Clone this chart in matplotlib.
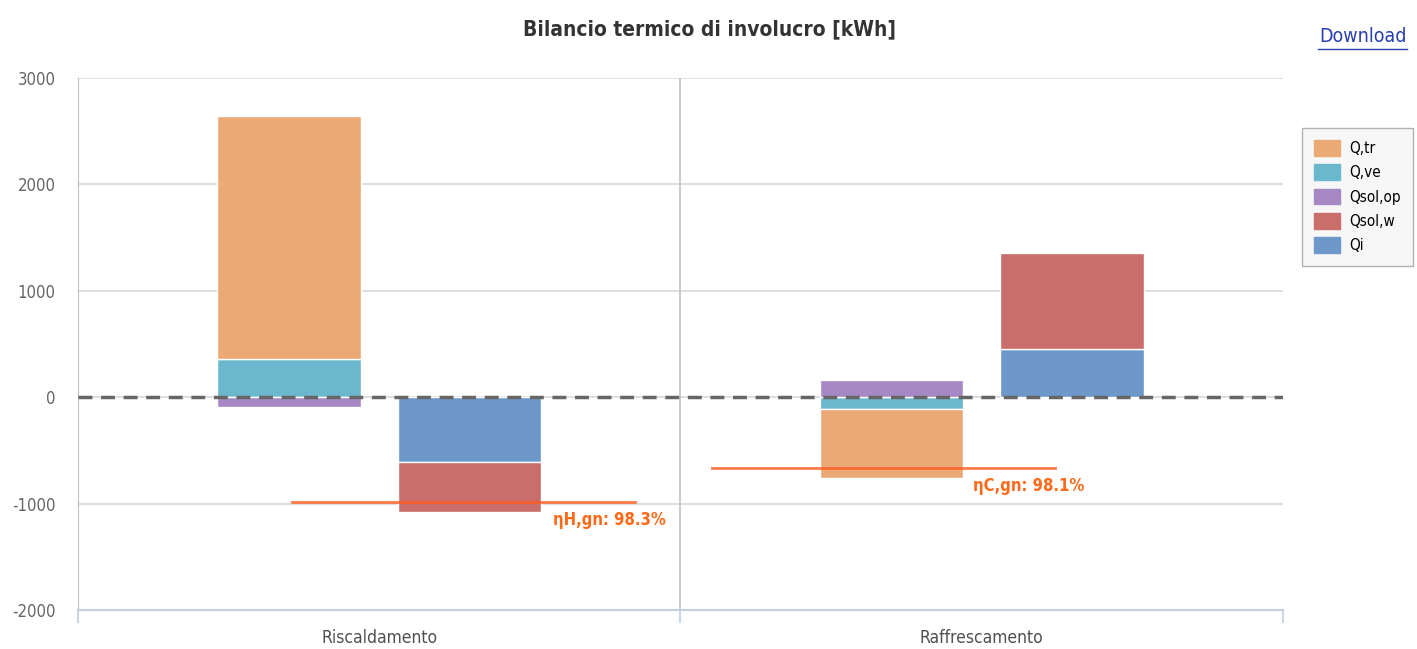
import numpy as np
import matplotlib
import matplotlib.pyplot as plt

categories = ['Riscaldamento', 'Raffrescamento']

# stack values for the left bar (losses) and right bar (gains) of each category
series = ['Q,tr', 'Q,ve', 'Qsol,op', 'Qsol,w', 'Qi']
colors = ['#EAAA75', '#6BB8CC', '#A689C4', '#C96E6A', '#6E98C9']

left_bar = {
    'Q,tr': [2290, -640],
    'Q,ve': [355, -115],
    'Qsol,op': [-95, 160],
}
right_bar = {
    'Qsol,w': [-470, 900],
    'Qi': [-610, 455],
}
right_order = ['Qi', 'Qsol,w']
left_order = ['Q,ve', 'Q,tr', 'Qsol,op']

eta_values = [-985, -665]
eta_labels = ['ηH,gn: 98.3%', 'ηC,gn: 98.1%']
eta_span = [(-0.145, 0.425), (-0.448, 0.121)]

plt.rcParams['font.family'] = ['Liberation Sans Narrow', 'DejaVu Sans']
plt.rcParams['font.stretch'] = 'condensed'

fig = plt.figure(figsize=(14.17, 6.49), dpi=100)
ax = fig.add_axes([0.055, 0.0601, 0.8504, 0.8197])

ind = np.arange(len(categories))
width = 0.238
off = 0.15


def stack(ax, xpos, data, order):
    pos = np.zeros(len(categories))
    neg = np.zeros(len(categories))
    for name in order:
        vals = np.array(data[name], dtype=float)
        bottoms = np.where(vals >= 0, pos, neg)
        ax.bar(xpos, vals, width, bottom=bottoms, color=colors[series.index(name)],
               edgecolor='white', linewidth=1, zorder=3)
        pos = pos + np.where(vals >= 0, vals, 0)
        neg = neg + np.where(vals < 0, vals, 0)


stack(ax, ind - off, left_bar, left_order)
stack(ax, ind + off, right_bar, right_order)

ax.axhline(0, color='#666666', linestyle=(0, (4, 2.5)), linewidth=2.5, zorder=4)

for i, (v, lab, sp) in enumerate(zip(eta_values, eta_labels, eta_span)):
    ax.plot([i + sp[0], i + sp[1]], [v, v], color='#FF5A1F', alpha=0.8, linewidth=2, zorder=5)
    ax.annotate(lab, xy=(i + sp[1], v), xytext=(-82, -9), textcoords='offset pixels',
                color='#FF6A1A', fontsize=12, fontweight='bold', va='top', ha='left')

ax.set_xlim(-0.5, 1.5)
ax.set_ylim(-2000, 3000)
ax.set_yticks([-2000, -1000, 0, 1000, 2000, 3000])
ax.set_yticklabels(['-2000', '-1000', '0', '1000', '2000', '3000'])
ax.yaxis.grid(True, color='#D8D8D8', linewidth=1.2, zorder=0)
ax.set_axisbelow(True)
ax.tick_params(axis='y', length=0, pad=16, labelsize=12, labelcolor='#666666')
ax.set_xticks(ind)
ax.set_xticklabels(categories)
ax.tick_params(axis='x', length=0, pad=14, labelsize=12.5, labelcolor='#505050')
ax.set_xticks([-0.5, 0.5, 1.5], minor=True)
ax.tick_params(axis='x', which='minor', length=9, color='#C0D0E0', width=1.2)

for s in ['top', 'right']:
    ax.spines[s].set_visible(False)
ax.spines['left'].set_color('#C0C0C0')
ax.spines['bottom'].set_color('#C0D0E0')
ax.spines['bottom'].set_linewidth(1.5)
ax.axvline(0.5, color='#C0C0C0', linewidth=1.2, zorder=1)

handles = [plt.Rectangle((0, 0), 1, 1, color=c) for c in colors]
leg = fig.legend(handles, series, loc='upper left', bbox_to_anchor=(0.9135, 0.815),
                 frameon=True, fontsize=11, handlelength=1.7, handleheight=1.2,
                 handletextpad=0.6, labelspacing=0.55, borderpad=0.8, fancybox=False)
leg.get_frame().set_facecolor('#F5F5F5')
leg.get_frame().set_edgecolor('#A0A0A0')

fig.text(0.501, 0.955, 'Bilancio termico di involucro [kWh]', ha='center', va='center',
         fontsize=15, fontweight='bold', color='#333333')
fig.text(0.993, 0.943, 'Download', ha='right', va='center', fontsize=14,
         color='#2A3FB0', url='#')
fig.add_artist(plt.Line2D([0.930, 0.993], [0.925, 0.925], color='#2A3FB0', linewidth=1))

fig.savefig('out.png', dpi=100)
